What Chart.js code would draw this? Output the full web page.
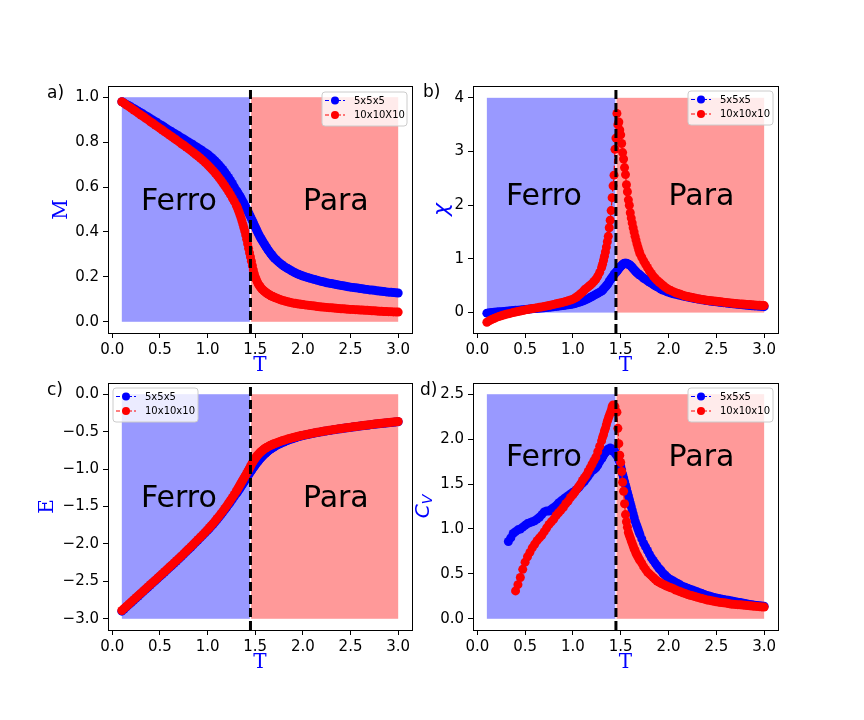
<!DOCTYPE html>
<html><head><meta charset="utf-8">
<script src="https://cdn.jsdelivr.net/npm/chart.js@4.4.1/dist/chart.umd.min.js"></script>
<style>
html,body{margin:0;padding:0;background:#fff;}
#wrap{position:relative;width:864px;height:720px;overflow:hidden;background:#fff;}
#wrap canvas{position:absolute;left:0;top:0;width:864px;height:720px;}
</style></head><body>
<div id="wrap">
<canvas id="cA" width="864" height="720"></canvas>
<canvas id="cB" width="864" height="720"></canvas>
<canvas id="cC" width="864" height="720"></canvas>
<canvas id="cD" width="864" height="720"></canvas>
</div>
<script>
// ---------------- DATA ----------------
const T = [
 0.100,0.125,0.150,0.175,0.200,0.225,0.250,0.275,0.300,0.325,0.350,0.375,0.400,0.425,0.450,0.475,0.500,0.525,
 0.550,0.575,0.600,0.625,0.650,0.675,0.700,0.725,0.750,0.775,0.800,0.825,0.850,0.875,0.900,0.925,0.950,0.975,
 1.00,1.02,1.04,1.06,1.08,1.10,1.12,1.14,1.16,1.18,1.20,1.22,1.24,1.26,1.28,
 1.30,1.31,1.32,1.33,1.34,1.35,1.36,1.37,1.38,1.39,
 1.40,1.41,1.42,1.43,1.44,1.45,1.46,1.47,1.48,1.49,
 1.50,1.51,1.52,1.53,1.54,1.55,1.56,1.57,1.58,1.59,
 1.60,1.61,1.62,1.63,1.64,1.65,1.66,1.67,1.68,1.69,
 1.70,1.72,1.74,1.76,1.78,1.80,1.82,1.84,1.86,1.88,1.90,1.92,1.94,1.96,1.98,
 2.000,2.025,2.050,2.075,2.100,2.125,2.150,2.175,2.200,2.225,2.250,2.275,2.300,2.325,2.350,2.375,2.400,2.425,2.450,2.475,2.500,
 2.525,2.550,2.575,2.600,2.625,2.650,2.675,2.700,2.725,2.750,2.775,2.800,2.825,2.850,2.875,2.900,2.925,2.950,2.975,3.000
];

const M_5 = [
 0.980,0.974,0.968,0.962,0.956,0.950,0.943,0.937,0.931,0.925,0.918,0.912,0.905,0.899,0.892,0.886,0.879,0.873,
 0.866,0.859,0.852,0.846,0.840,0.833,0.827,0.820,0.814,0.807,0.801,0.794,0.788,0.781,0.774,0.767,0.760,0.753,
 0.746,0.739,0.732,0.724,0.716,0.707,0.698,0.688,0.678,0.667,0.655,0.643,0.630,0.616,0.601,
 0.586,0.579,0.572,0.565,0.558,0.551,0.543,0.535,0.527,0.519,
 0.511,0.503,0.494,0.486,0.477,0.468,0.459,0.450,0.441,0.431,
 0.422,0.413,0.404,0.395,0.387,0.378,0.371,0.364,0.357,0.350,
 0.343,0.336,0.330,0.323,0.317,0.311,0.305,0.300,0.294,0.289,
 0.284,0.276,0.268,0.261,0.254,0.248,0.242,0.237,0.232,0.227,0.222,0.218,0.214,0.210,0.207,
 0.204,0.200,0.197,0.194,0.191,0.188,0.185,0.182,0.179,0.177,0.174,0.172,0.170,0.168,0.166,0.164,0.162,0.160,0.158,0.156,0.154,
 0.153,0.151,0.150,0.148,0.147,0.145,0.144,0.142,0.141,0.140,0.138,0.137,0.136,0.135,0.133,0.132,0.131,0.130,0.129,0.128
];
const M_10 = [
 0.980,0.973,0.965,0.958,0.951,0.943,0.936,0.928,0.921,0.914,0.906,0.899,0.891,0.884,0.876,0.869,0.861,0.854,
 0.846,0.839,0.831,0.824,0.816,0.809,0.801,0.793,0.786,0.778,0.770,0.762,0.754,0.745,0.737,0.728,0.719,0.709,
 0.699,0.690,0.681,0.672,0.662,0.652,0.641,0.630,0.618,0.606,0.593,0.580,0.566,0.551,0.536,
 0.520,0.511,0.500,0.489,0.477,0.464,0.450,0.435,0.420,0.404,
 0.386,0.367,0.347,0.327,0.307,0.289,0.270,0.250,0.231,0.214,
 0.200,0.189,0.179,0.170,0.163,0.157,0.151,0.146,0.142,0.138,
 0.134,0.131,0.128,0.125,0.122,0.120,0.117,0.115,0.113,0.111,
 0.109,0.106,0.102,0.099,0.096,0.094,0.091,0.089,0.087,0.085,0.083,0.082,0.080,0.079,0.078,
 0.077,0.075,0.074,0.072,0.071,0.070,0.068,0.067,0.066,0.065,0.064,0.063,0.062,0.061,0.060,0.059,0.058,0.058,0.057,0.056,0.055,
 0.055,0.054,0.053,0.052,0.052,0.051,0.051,0.050,0.049,0.049,0.048,0.047,0.047,0.046,0.046,0.045,0.045,0.044,0.044,0.043
];
const CHI_5 = [
 -0.010,-0.005,0.000,0.005,0.010,0.014,0.018,0.022,0.026,0.030,0.034,0.038,0.042,0.046,0.050,0.054,0.058,0.062,
 0.066,0.070,0.074,0.078,0.082,0.086,0.090,0.095,0.100,0.105,0.110,0.115,0.120,0.126,0.132,0.138,0.144,0.150,
 0.16,0.17,0.18,0.19,0.20,0.215,0.23,0.245,0.26,0.28,0.30,0.32,0.34,0.36,0.38,
 0.40,0.42,0.44,0.46,0.48,0.50,0.52,0.55,0.58,0.61,
 0.63,0.66,0.68,0.71,0.73,0.75,0.77,0.79,0.82,0.84,
 0.86,0.88,0.89,0.91,0.92,0.92,0.92,0.91,0.90,0.89,
 0.88,0.86,0.84,0.82,0.80,0.78,0.76,0.74,0.73,0.71,
 0.70,0.67,0.64,0.62,0.59,0.57,0.55,0.52,0.50,0.48,0.46,0.44,0.42,0.41,0.39,
 0.38,0.365,0.35,0.34,0.33,0.32,0.31,0.30,0.29,0.28,0.27,0.262,0.255,0.247,0.24,0.232,0.225,0.218,0.21,0.205,0.20,
 0.195,0.19,0.185,0.18,0.175,0.17,0.165,0.16,0.155,0.15,0.145,0.14,0.136,0.132,0.128,0.125,0.122,0.119,0.115,0.11
];
const CHI_10 = [
 -0.180,-0.153,-0.130,-0.109,-0.090,-0.074,-0.059,-0.045,-0.032,-0.021,-0.010,0.000,0.010,0.020,0.030,0.040,0.050,0.058,
 0.066,0.074,0.082,0.090,0.098,0.106,0.115,0.124,0.133,0.143,0.153,0.163,0.173,0.184,0.195,0.207,0.220,0.234,
 0.25,0.27,0.29,0.32,0.35,0.38,0.42,0.45,0.48,0.51,0.54,0.58,0.62,0.68,0.75,
 0.84,0.90,0.97,1.05,1.13,1.22,1.32,1.42,1.58,1.72,
 1.90,2.14,2.36,2.56,3.04,3.25,3.71,3.50,3.55,3.40,
 3.31,3.15,2.98,2.86,2.70,2.57,2.38,2.25,2.10,2.00,
 1.86,1.76,1.67,1.58,1.50,1.42,1.35,1.28,1.22,1.16,
 1.10,1.03,0.96,0.90,0.84,0.78,0.73,0.68,0.64,0.60,0.57,0.54,0.51,0.48,0.455,
 0.43,0.41,0.39,0.37,0.355,0.34,0.325,0.31,0.30,0.29,0.28,0.27,0.26,0.253,0.245,0.238,0.23,0.225,0.22,0.215,0.21,
 0.205,0.20,0.195,0.19,0.185,0.18,0.175,0.17,0.165,0.16,0.158,0.155,0.152,0.15,0.145,0.14,0.138,0.135,0.132,0.13
];
const E_5 = [
 -2.898,-2.869,-2.840,-2.811,-2.782,-2.753,-2.724,-2.695,-2.666,-2.637,-2.608,-2.579,-2.550,-2.521,-2.492,-2.463,-2.434,-2.405,
 -2.376,-2.347,-2.317,-2.288,-2.258,-2.228,-2.198,-2.168,-2.137,-2.106,-2.075,-2.044,-2.012,-1.980,-1.948,-1.916,-1.883,-1.850,
 -1.819,-1.791,-1.763,-1.734,-1.704,-1.673,-1.642,-1.610,-1.577,-1.544,-1.510,-1.475,-1.440,-1.404,-1.368,
 -1.331,-1.313,-1.294,-1.275,-1.256,-1.237,-1.218,-1.198,-1.178,-1.158,
 -1.138,-1.118,-1.098,-1.078,-1.058,-1.038,-1.019,-1.000,-0.981,-0.963,
 -0.945,-0.928,-0.911,-0.895,-0.879,-0.864,-0.849,-0.835,-0.822,-0.809,
 -0.797,-0.785,-0.774,-0.763,-0.753,-0.743,-0.734,-0.725,-0.717,-0.709,
 -0.701,-0.687,-0.674,-0.661,-0.649,-0.638,-0.627,-0.617,-0.607,-0.598,-0.590,-0.582,-0.574,-0.566,-0.559,
 -0.552,-0.545,-0.538,-0.531,-0.525,-0.519,-0.513,-0.507,-0.501,-0.495,-0.490,-0.485,-0.480,-0.475,-0.470,-0.465,-0.461,-0.456,-0.452,-0.447,-0.443,
 -0.438,-0.434,-0.430,-0.426,-0.422,-0.418,-0.414,-0.410,-0.406,-0.402,-0.398,-0.395,-0.391,-0.388,-0.384,-0.381,-0.377,-0.374,-0.370,-0.367
];
const E_10 = [
 -2.890,-2.861,-2.832,-2.803,-2.774,-2.745,-2.716,-2.687,-2.658,-2.629,-2.600,-2.571,-2.542,-2.513,-2.484,-2.455,-2.426,-2.397,
 -2.368,-2.339,-2.309,-2.280,-2.250,-2.220,-2.190,-2.160,-2.129,-2.098,-2.067,-2.036,-2.004,-1.972,-1.940,-1.908,-1.875,-1.842,
 -1.809,-1.781,-1.752,-1.723,-1.692,-1.661,-1.629,-1.596,-1.562,-1.527,-1.491,-1.454,-1.417,-1.378,-1.339,
 -1.299,-1.278,-1.256,-1.234,-1.212,-1.190,-1.168,-1.146,-1.124,-1.102,
 -1.080,-1.058,-1.036,-1.013,-0.989,-0.964,-0.940,-0.917,-0.895,-0.874,
 -0.855,-0.838,-0.822,-0.807,-0.793,-0.780,-0.768,-0.757,-0.746,-0.736,
 -0.727,-0.719,-0.711,-0.704,-0.697,-0.690,-0.684,-0.678,-0.672,-0.666,
 -0.661,-0.651,-0.641,-0.632,-0.623,-0.615,-0.607,-0.599,-0.592,-0.585,-0.578,-0.572,-0.565,-0.559,-0.553,
 -0.547,-0.540,-0.534,-0.527,-0.521,-0.515,-0.509,-0.503,-0.498,-0.492,-0.487,-0.482,-0.477,-0.472,-0.467,-0.462,-0.458,-0.453,-0.449,-0.444,-0.440,
 -0.435,-0.431,-0.427,-0.423,-0.419,-0.415,-0.411,-0.407,-0.403,-0.399,-0.395,-0.392,-0.388,-0.385,-0.381,-0.378,-0.374,-0.371,-0.367,-0.364
];
const CV_5 = [
 null,null,null,null,null,null,null,null,null,0.86,0.90,0.95,0.97,0.99,1.00,1.02,1.04,1.06,
 1.07,1.08,1.09,1.11,1.13,1.16,1.19,1.20,1.20,1.22,1.24,1.26,1.29,1.31,1.33,1.35,1.37,1.39,
 1.41,1.42,1.44,1.46,1.49,1.51,1.53,1.56,1.59,1.62,1.65,1.66,1.68,1.71,1.75,
 1.78,1.80,1.82,1.84,1.85,1.87,1.88,1.89,1.88,1.90,
 1.88,1.87,1.89,1.86,1.86,1.83,1.82,1.80,1.77,1.74,
 1.70,1.66,1.61,1.57,1.53,1.49,1.45,1.41,1.37,1.33,
 1.29,1.25,1.21,1.17,1.13,1.09,1.06,1.03,1.00,0.97,
 0.94,0.89,0.84,0.80,0.76,0.72,0.68,0.65,0.62,0.59,0.56,0.54,0.51,0.49,0.47,
 0.45,0.435,0.42,0.405,0.39,0.375,0.36,0.35,0.34,0.33,0.32,0.31,0.30,0.29,0.28,0.27,0.26,0.253,0.245,0.238,0.23,
 0.225,0.22,0.215,0.21,0.205,0.20,0.195,0.19,0.185,0.18,0.175,0.17,0.165,0.16,0.155,0.15,0.148,0.145,0.142,0.14
];
const CV_10 = [
 null,null,null,null,null,null,null,null,null,null,null,null,0.31,0.38,0.46,0.55,0.63,0.69,
 0.74,0.79,0.83,0.87,0.90,0.93,0.97,1.01,1.05,1.08,1.11,1.15,1.18,1.21,1.24,1.28,1.31,1.35,
 1.38,1.41,1.44,1.47,1.50,1.54,1.57,1.60,1.64,1.68,1.72,1.76,1.80,1.86,1.92,
 1.98,2.02,2.05,2.09,2.12,2.16,2.20,2.23,2.26,2.29,
 2.32,2.36,2.38,2.33,2.36,2.31,2.30,2.12,1.95,1.82,
 1.74,1.64,1.52,1.42,1.28,1.16,1.08,1.02,0.96,0.93,
 0.90,0.87,0.84,0.81,0.78,0.76,0.73,0.71,0.69,0.67,
 0.65,0.62,0.58,0.55,0.52,0.50,0.48,0.46,0.44,0.42,0.41,0.395,0.385,0.375,0.365,
 0.355,0.345,0.335,0.32,0.31,0.30,0.29,0.28,0.27,0.262,0.255,0.248,0.24,0.232,0.225,0.218,0.21,0.205,0.20,0.195,0.19,
 0.185,0.18,0.178,0.175,0.17,0.165,0.162,0.16,0.157,0.155,0.152,0.15,0.147,0.145,0.142,0.14,0.138,0.135,0.132,0.13
];

const TC = 1.45;                 // transition temperature (dashed line)
const FILL_T = [0.1, 3.0];        // extent of the phase shading
const TEXT_T = [0.3, 2.0];        // T where "Ferro" / "Para" start
const PHASE_TEXT = ['Ferro', 'Para'];

const X_TICKS = [0, 0.5, 1.0, 1.5, 2.0, 2.5, 3.0];
const X_TICK_LABELS = ['0.0','0.5','1.0','1.5','2.0','2.5','3.0'];

const Y_TICKS_M = [0, 0.2, 0.4, 0.6, 0.8, 1.0];
const Y_LABELS_M = ['0.0','0.2','0.4','0.6','0.8','1.0'];
const Y_TICKS_CHI = [0, 1, 2, 3, 4];
const Y_LABELS_CHI = ['0','1','2','3','4'];
const Y_TICKS_E = [-3.0, -2.5, -2.0, -1.5, -1.0, -0.5, 0.0];
const Y_LABELS_E = ['\u22123.0','\u22122.5','\u22122.0','\u22121.5','\u22121.0','\u22120.5','0.0'];
const Y_TICKS_CV = [0, 0.5, 1.0, 1.5, 2.0, 2.5];
const Y_LABELS_CV = ['0.0','0.5','1.0','1.5','2.0','2.5'];

const FILL_Y_M = [0, 1], FILL_Y_CHI = [0, 4], FILL_Y_E = [-3, 0], FILL_Y_CV = [0, 2.5];
const TEXT_Y_M = 0.5, TEXT_Y_CHI = 2.0, TEXT_Y_E = -1.5, TEXT_Y_CV = 1.7;

const LABELS_A = ['5x5x5', '10x10X10'];
const LABELS_OTHER = ['5x5x5', '10x10x10'];

// ---------------- RENDERING ----------------
Chart.defaults.font.family = '"DejaVu Sans", sans-serif';
const BLUE = '#0000ff', RED = '#ff0000';

const phasePlugin = {
  id: 'phase',
  beforeDatasetsDraw(chart, args, o) {
    const {ctx, chartArea: a, scales: {x, y}} = chart;
    ctx.save();
    ctx.beginPath(); ctx.rect(a.left, a.top, a.width, a.height); ctx.clip();
    const x0 = x.getPixelForValue(FILL_T[0]), xc = x.getPixelForValue(TC), x1 = x.getPixelForValue(FILL_T[1]);
    const yl = y.getPixelForValue(o.fillY[0]), yh = y.getPixelForValue(o.fillY[1]);
    ctx.fillStyle = '#9999ff';
    ctx.fillRect(x0, yh, (xc - 0.6) - x0, yl - yh);
    ctx.fillStyle = '#ff9999';
    ctx.fillRect(xc + 0.6, yh, x1 - (xc + 0.6), yl - yh);
    ctx.fillStyle = '#000';
    ctx.font = '30px "DejaVu Sans"';
    ctx.textAlign = 'left'; ctx.textBaseline = 'alphabetic';
    ctx.fillText(PHASE_TEXT[0], x.getPixelForValue(TEXT_T[0]), y.getPixelForValue(o.textY));
    ctx.fillText(PHASE_TEXT[1], x.getPixelForValue(TEXT_T[1]), y.getPixelForValue(o.textY));
    ctx.restore();
  },
  afterDatasetsDraw(chart, args, o) {
    const {ctx, chartArea: a, scales: {x}} = chart;
    const xc = x.getPixelForValue(TC);
    ctx.save();
    ctx.strokeStyle = '#000'; ctx.lineWidth = 3; ctx.setLineDash([9, 4]);
    ctx.beginPath(); ctx.moveTo(xc, a.bottom); ctx.lineTo(xc, a.top); ctx.stroke();
    ctx.restore();
  },
  afterDraw(chart, args, o) {
    const {ctx, chartArea: a} = chart;
    ctx.save();
    // frame
    ctx.strokeStyle = '#000'; ctx.lineWidth = 1; ctx.setLineDash([]);
    ctx.strokeRect(Math.round(a.left) + 0.5, Math.round(a.top) + 0.5, Math.round(a.width), Math.round(a.height));
    // legend
    const [lx, ly] = o.legend;
    const w = 85, h = 34, r = 3;
    ctx.beginPath();
    ctx.moveTo(lx + r, ly); ctx.lineTo(lx + w - r, ly); ctx.arcTo(lx + w, ly, lx + w, ly + r, r);
    ctx.lineTo(lx + w, ly + h - r); ctx.arcTo(lx + w, ly + h, lx + w - r, ly + h, r);
    ctx.lineTo(lx + r, ly + h); ctx.arcTo(lx, ly + h, lx, ly + h - r, r);
    ctx.lineTo(lx, ly + r); ctx.arcTo(lx, ly, lx + r, ly, r); ctx.closePath();
    ctx.fillStyle = 'rgba(255,255,255,0.8)'; ctx.fill();
    ctx.strokeStyle = 'rgba(204,204,204,1)'; ctx.lineWidth = 1; ctx.stroke();
    chart.data.datasets.forEach((ds, i) => {
      const cy = ly + 8.5 + i * 14.5;
      ctx.strokeStyle = ds.borderColor; ctx.lineWidth = 1.2; ctx.setLineDash([4, 2]);
      ctx.beginPath(); ctx.moveTo(lx + 3, cy); ctx.lineTo(lx + 23, cy); ctx.stroke();
      ctx.setLineDash([]);
      ctx.fillStyle = ds.borderColor;
      ctx.beginPath(); ctx.arc(lx + 13, cy, 4, 0, Math.PI * 2); ctx.fill();
      ctx.fillStyle = '#000'; ctx.font = '10px "DejaVu Sans"';
      ctx.textAlign = 'left'; ctx.textBaseline = 'middle';
      ctx.fillText(ds.label, lx + 32, cy + 0.5);
    });
    // panel letter
    ctx.fillStyle = '#000'; ctx.font = '17px "DejaVu Sans"';
    ctx.textAlign = 'left'; ctx.textBaseline = 'alphabetic';
    ctx.fillText(o.letter, o.letterPos[0], o.letterPos[1]);
    // x title
    ctx.fillStyle = BLUE; ctx.font = '20px "DejaVu Serif"';
    ctx.textAlign = 'center'; ctx.textBaseline = 'middle';
    ctx.fillText('T', (a.left + a.right) / 2, a.bottom + 33);
    // y title
    ctx.translate(o.yTitleX, (a.top + a.bottom) / 2);
    ctx.rotate(-Math.PI / 2);
    if (o.yTitle === 'CV') {
      ctx.font = 'italic 20px "DejaVu Sans"';
      ctx.textAlign = 'left'; ctx.textBaseline = 'middle';
      const wC = ctx.measureText('C').width;
      ctx.font = 'italic 14px "DejaVu Sans"';
      const wV = ctx.measureText('V').width;
      const start = -(wC + wV) / 2;
      ctx.font = 'italic 20px "DejaVu Sans"';
      ctx.fillText('C', start, 0);
      ctx.font = 'italic 14px "DejaVu Sans"';
      ctx.fillText('V', start + wC, 4);
    } else {
      ctx.font = o.yTitleFont;
      ctx.fillText(o.yTitle, 0, 0);
    }
    ctx.restore();
  }
};

// order: the 5x5x5 series is drawn first, the 10x10x10 series on top (as in the figure)
function makeDataset(label, series, color, order) {
  return {
    label, order,
    data: T.map((t, i) => ({x: t, y: series[i]})),
    borderColor: color, backgroundColor: color,
    pointBackgroundColor: color, pointBorderWidth: 0, pointRadius: 4.5,
    borderWidth: 1.2, borderDash: [5, 2], fill: false, tension: 0, spanGaps: false
  };
}

function makeChart(id, cfg) {
  const tickFont = {family: '"DejaVu Sans"', size: 15};
  return new Chart(document.getElementById(id), {
    type: 'line',
    data: {datasets: [
      makeDataset(cfg.labels[0], cfg.s5, BLUE, 1),
      makeDataset(cfg.labels[1], cfg.s10, RED, 0)
    ]},
    options: {
      responsive: false, animation: false, events: [],
      layout: {padding: cfg.pad},
      plugins: {
        legend: {display: false}, tooltip: {enabled: false},
        phase: {
          fillY: cfg.fillY, textY: cfg.textY, legend: cfg.legend,
          letter: cfg.letter, letterPos: cfg.letterPos,
          yTitle: cfg.yTitle, yTitleFont: cfg.yTitleFont, yTitleX: cfg.yTitleX
        }
      },
      scales: {
        x: {
          type: 'linear', min: -0.045, max: 3.145,
          afterBuildTicks: s => { s.ticks = X_TICKS.map(v => ({value: v})); },
          afterFit: s => { s.height = 30; },
          ticks: {font: tickFont, color: '#000', padding: 3, maxRotation: 0, minRotation: 0, autoSkip: false,
                  callback: (v, i) => X_TICK_LABELS[i]},
          grid: {drawOnChartArea: false, drawTicks: true, tickLength: 5, color: '#000', lineWidth: 1},
          border: {display: false}
        },
        y: {
          type: 'linear', min: cfg.yMin, max: cfg.yMax,
          afterBuildTicks: s => { s.ticks = cfg.yTicks.map(v => ({value: v})); },
          afterFit: s => { s.width = 50; },
          ticks: {font: tickFont, color: '#000', padding: 4, autoSkip: false,
                  callback: (v, i) => cfg.yLabels[i]},
          grid: {drawOnChartArea: false, drawTicks: true, tickLength: 5, color: '#000', lineWidth: 1},
          border: {display: false}
        }
      }
    },
    plugins: [phasePlugin]
  });
}

makeChart('cA', {
  s5: M_5, s10: M_10, labels: LABELS_A,
  yMin: -0.05, yMax: 1.05, yTicks: Y_TICKS_M, yLabels: Y_LABELS_M,
  fillY: FILL_Y_M, textY: TEXT_Y_M,
  pad: {left: 58, right: 452, top: 86, bottom: 357},
  legend: [322, 92], letter: 'a)', letterPos: [47, 98],
  yTitle: 'M', yTitleFont: '20px "DejaVu Serif"', yTitleX: 62
});
makeChart('cB', {
  s5: CHI_5, s10: CHI_10, labels: LABELS_OTHER,
  yMin: -0.38, yMax: 4.22, yTicks: Y_TICKS_CHI, yLabels: Y_LABELS_CHI,
  fillY: FILL_Y_CHI, textY: TEXT_Y_CHI,
  pad: {left: 423, right: 86, top: 86, bottom: 357},
  legend: [688, 91], letter: 'b)', letterPos: [423, 97],
  yTitle: '\u03C7', yTitleFont: 'italic 22px "DejaVu Sans"', yTitleX: 442
});
makeChart('cC', {
  s5: E_5, s10: E_10, labels: LABELS_OTHER,
  yMin: -3.15, yMax: 0.15, yTicks: Y_TICKS_E, yLabels: Y_LABELS_E,
  fillY: FILL_Y_E, textY: TEXT_Y_E,
  pad: {left: 58, right: 452, top: 383, bottom: 60},
  legend: [113, 388], letter: 'c)', letterPos: [47, 395],
  yTitle: 'E', yTitleFont: '20px "DejaVu Serif"', yTitleX: 48
});
makeChart('cD', {
  s5: CV_5, s10: CV_10, labels: LABELS_OTHER,
  yMin: -0.125, yMax: 2.625, yTicks: Y_TICKS_CV, yLabels: Y_LABELS_CV,
  fillY: FILL_Y_CV, textY: TEXT_Y_CV,
  pad: {left: 423, right: 86, top: 383, bottom: 60},
  legend: [688, 388], letter: 'd)', letterPos: [420, 395],
  yTitle: 'CV', yTitleFont: 'italic 20px "DejaVu Sans"', yTitleX: 424
});
</script>
</body></html>
